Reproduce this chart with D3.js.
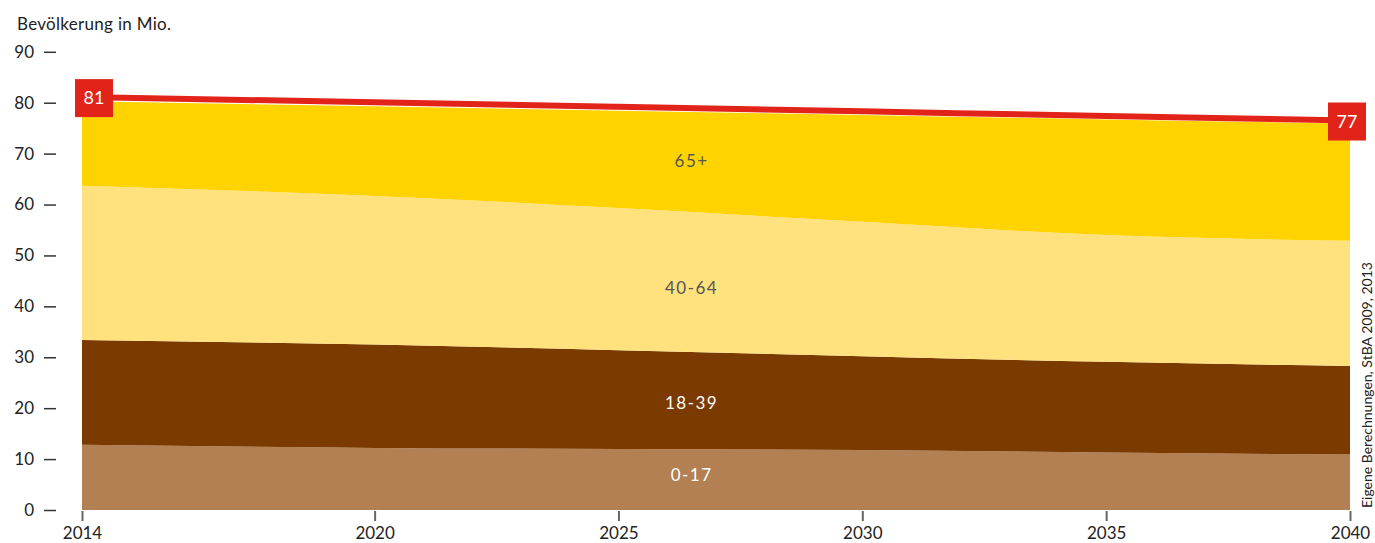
<!DOCTYPE html>
<html>
<head>
<meta charset="utf-8">
<script src="https://cdn.jsdelivr.net/npm/d3@7"></script>
<style>
  html, body { margin: 0; padding: 0; background: #fff; }
  svg { display: block; font-family: Lato, "Noto Sans", sans-serif; }
</style>
</head>
<body>
<svg id="chart" width="1375" height="543"></svg>
<script>
// ---- data ----
const years = [2014, 2020, 2025, 2030, 2035, 2040];
const age0to17 = [12.8, 12.2, 12.0, 11.8, 11.3, 10.9];
const age18to39 = [20.6, 20.3, 19.4, 18.4, 17.8, 17.4];
const age40to64 = [30.3, 29.2, 27.9, 26.4, 24.9, 24.6];
const age65plus = [16.6, 17.6, 19.1, 21.0, 22.7, 23.0];
const totalPopulation = [81.1, 80.1, 79.2, 78.3, 77.4, 76.5];
const seriesKeys = ["0-17", "18-39", "40-64", "65+"];
const seriesLabels = ["0-17", "18-39", "40-64", "65+"];
const xTickValues = [2014, 2020, 2025, 2030, 2035, 2040];
const yTickValues = [0, 10, 20, 30, 40, 50, 60, 70, 80, 90];
const yAxisTitle = "Bevölkerung in Mio.";
const sourceText = "Eigene Berechnungen, StBA 2009, 2013";

// ---- styles ----
const colors = { "0-17": "#B28052", "18-39": "#7B3A00", "40-64": "#FFE17D", "65+": "#FFD300" };
const labelColors = { "0-17": "#ffffff", "18-39": "#ffffff", "40-64": "#555555", "65+": "#555555" };
const labelShift = { "0-17": -5, "18-39": 2, "40-64": 6, "65+": -1 };
const red = "#E2231A";

const table = years.map((yr, i) => ({
  year: yr,
  "0-17": age0to17[i],
  "18-39": age18to39[i],
  "40-64": age40to64[i],
  "65+": age65plus[i]
}));

const svg = d3.select("#chart");
const x = d3.scaleLinear().domain([2014, 2040]).range([82, 1350]);
const y = d3.scaleLinear().domain([0, 90]).range([510, 51.8]);

const stacked = d3.stack().keys(seriesKeys)(table);

const area = d3.area()
  .x(d => x(d.data.year))
  .y0(d => y(d[0]))
  .y1(d => y(d[1]))
  .curve(d3.curveMonotoneX);

svg.append("g").selectAll("path")
  .data(stacked)
  .join("path")
  .attr("d", area)
  .attr("fill", d => colors[d.key]);

// total line
const line = d3.line()
  .x((d, i) => x(years[i]))
  .y(d => y(d))
  .curve(d3.curveMonotoneX);

svg.append("path")
  .datum(totalPopulation)
  .attr("d", line)
  .attr("fill", "none")
  .attr("stroke", red)
  .attr("stroke-width", 6);

// series labels at a fixed year position
const labelYear = 2026.5;
function interp(arr, yr) {
  const i = d3.bisectRight(years, yr) - 1;
  const t = (yr - years[i]) / (years[i + 1] - years[i]);
  return arr[i] + t * (arr[i + 1] - arr[i]);
}
svg.append("g").selectAll("text")
  .data(stacked)
  .join("text")
  .attr("x", x(labelYear))
  .attr("y", s => {
    const lo = interp(s.map(d => d[0]), labelYear);
    const hi = interp(s.map(d => d[1]), labelYear);
    return y((lo + hi) / 2) + labelShift[s.key];
  })
  .attr("dy", "0.35em")
  .attr("text-anchor", "middle")
  .attr("font-size", 17)
  .attr("letter-spacing", 1.5)
  .attr("fill", s => labelColors[s.key])
  .text((s, i) => seriesLabels[i]);

// value boxes at ends
const ends = [
  { i: 0, dx: -7 },
  { i: totalPopulation.length - 1, dx: -22 }
];
const boxG = svg.append("g").selectAll("g")
  .data(ends)
  .join("g")
  .attr("transform", d => `translate(${x(years[d.i]) + d.dx},${y(totalPopulation[d.i]) - 18})`);
boxG.append("rect")
  .attr("width", 38).attr("height", 38)
  .attr("fill", red);
boxG.append("text")
  .attr("x", 19).attr("y", 19)
  .attr("dy", "0.35em")
  .attr("text-anchor", "middle")
  .attr("font-size", 18)
  .attr("fill", "#fff")
  .text(d => Math.round(totalPopulation[d.i]));

// x axis
const xAxis = svg.append("g")
  .attr("transform", "translate(0,511)")
  .call(d3.axisBottom(x).tickValues(xTickValues).tickFormat(d3.format("d")).tickSize(10).tickPadding(6));
xAxis.select(".domain").remove();
xAxis.selectAll(".tick line").attr("stroke", "#666").attr("stroke-width", 2);
xAxis.selectAll(".tick text").attr("font-size", 17).attr("fill", "#222").attr("font-family", "Lato, sans-serif");

// y axis
const yAxis = svg.append("g")
  .attr("transform", "translate(56,0)")
  .call(d3.axisLeft(y).tickValues(yTickValues).tickSize(12).tickPadding(10));
yAxis.select(".domain").remove();
yAxis.selectAll(".tick line").attr("stroke", "#333").attr("stroke-width", 1.5);
yAxis.selectAll(".tick text").attr("font-size", 17).attr("fill", "#222").attr("font-family", "Lato, sans-serif");

// y title
svg.append("text")
  .attr("x", 17).attr("y", 30)
  .attr("font-size", 17)
  .attr("letter-spacing", 0.3)
  .attr("fill", "#222")
  .text(yAxisTitle);

// source
svg.append("text")
  .attr("transform", "translate(1372,508) rotate(-90)")
  .attr("font-size", 14)
  .attr("fill", "#222")
  .text(sourceText);
</script>
</body>
</html>
